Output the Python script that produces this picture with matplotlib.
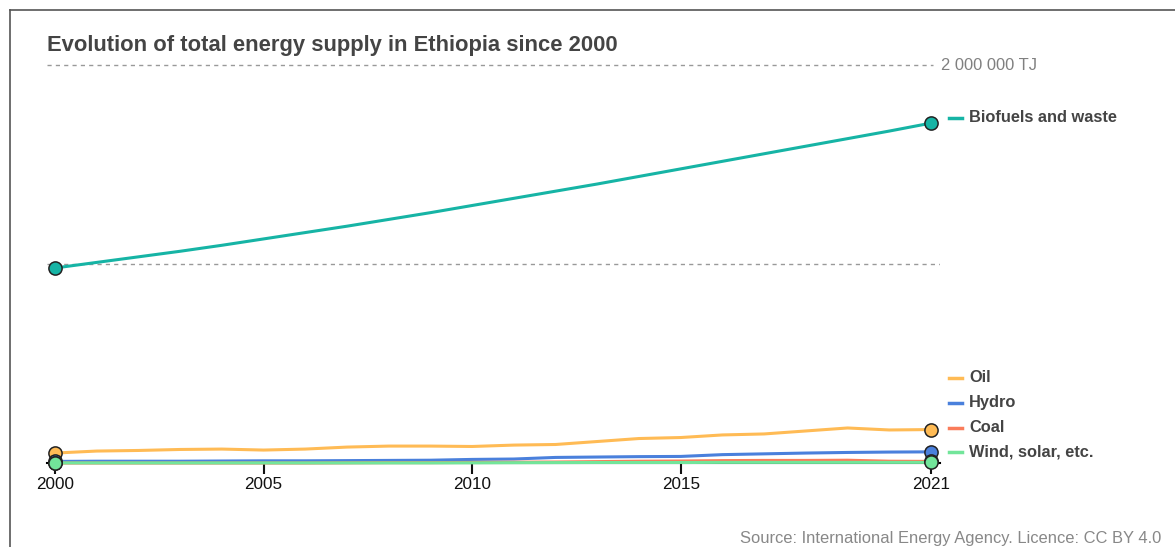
import matplotlib.pyplot as plt
from matplotlib.lines import Line2D

plt.rcParams['font.family'] = ['Liberation Sans', 'DejaVu Sans']

years = list(range(2000, 2022))

# total energy supply, TJ
biofuels = [980000, 1008000, 1036000, 1064000, 1094000, 1126000, 1158000, 1190000,
            1224000, 1258000, 1294000, 1330000, 1366000, 1402000, 1440000, 1478000,
            1516000, 1554000, 1592000, 1630000, 1668000, 1708000]
oil = [50000, 60000, 63000, 68000, 70000, 65000, 70000, 80000, 85000, 85000, 83000,
       90000, 93000, 108000, 123000, 128000, 141000, 146000, 161000, 176000, 166000, 168000]
hydro = [8000, 9000, 9000, 9000, 10000, 11000, 11000, 12000, 13000, 14000, 18000,
         20000, 28000, 30000, 32000, 33000, 42000, 46000, 50000, 53000, 55000, 56000]
coal = [0, 0, 0, 0, 0, 0, 0, 1000, 2000, 2000, 3000, 4000, 5000, 7000, 9000, 10000,
        12000, 13000, 13000, 14000, 9000, 8000]
wind = [500, 500, 500, 500, 500, 500, 500, 500, 500, 500, 800, 1500, 2000, 2500,
        2500, 2500, 3000, 3000, 3000, 3000, 3000, 3000]

series = [
    ("Biofuels and waste", biofuels, "#16b4a5"),
    ("Oil", oil, "#ffbb55"),
    ("Hydro", hydro, "#4a80dc"),
    ("Coal", coal, "#fa7c5a"),
    ("Wind, solar, etc.", wind, "#72e59a"),
]

W, H = 1175, 547
fig = plt.figure(figsize=(W / 100, H / 100), dpi=100)

def fx(px):
    return px / W

def fy(py):
    return 1 - py / H

ax = fig.add_axes([fx(47), fy(463), fx(940) - fx(47), fy(65) - fy(463)])
ax.set_xlim(1999.808, 2021.216)
ax.set_ylim(0, 2000000)

for sp in ["top", "right", "left"]:
    ax.spines[sp].set_visible(False)
ax.spines["bottom"].set_linewidth(1.5)
ax.spines["bottom"].set_zorder(1)

# gridlines
ax.axhline(1000000, color="#999999", lw=1, ls=(0, (3, 3)), zorder=0)
ax.plot([1999.808, 2021.04], [2000000, 2000000], color="#999999", lw=1,
        ls=(0, (3, 3)), clip_on=False, zorder=0)
ax.text(2021.25, 2000000, "2 000 000 TJ", color="#808080", fontsize=11.9,
        va="center", ha="left")

for name, vals, col in series:
    ax.plot(years, vals, color=col, lw=2.2, clip_on=False, zorder=2)
for name, vals, col in series:
    ax.plot([years[0], years[-1]], [vals[0], vals[-1]], "o", color=col,
            markersize=9.5, markeredgecolor="#222222", markeredgewidth=1.1,
            clip_on=False, zorder=3)

ax.set_yticks([])
ax.set_xticks([2000, 2005, 2010, 2015, 2021])
ax.tick_params(axis="x", length=8, width=1.5, color="#111111", labelsize=12.3,
               pad=2, labelcolor="#111111")

# labels on the right
label_y = [118, 378, 403, 428, 452]
for (name, vals, col), py in zip(series, label_y):
    fig.add_artist(Line2D([fx(949), fx(962)], [fy(py), fy(py)], color=col, lw=2.5))
    fig.text(fx(969), fy(py), name, color="#444444", fontsize=11.8,
             fontweight="bold", va="center", ha="left")

fig.text(fx(47), fy(45), "Evolution of total energy supply in Ethiopia since 2000",
         color="#444444", fontsize=15.8, fontweight="bold", va="center", ha="left")
fig.text(fx(1161), fy(539), "Source: International Energy Agency. Licence: CC BY 4.0",
         color="#888888", fontsize=11.9, va="center", ha="right")

# frame
fig.add_artist(Line2D([fx(9.5), fx(9.5)], [fy(10), 0], color="#555555", lw=1.2))
fig.add_artist(Line2D([fx(9.5), 1], [fy(10), fy(10)], color="#555555", lw=1.2))

fig.savefig("out.png", dpi=100)
